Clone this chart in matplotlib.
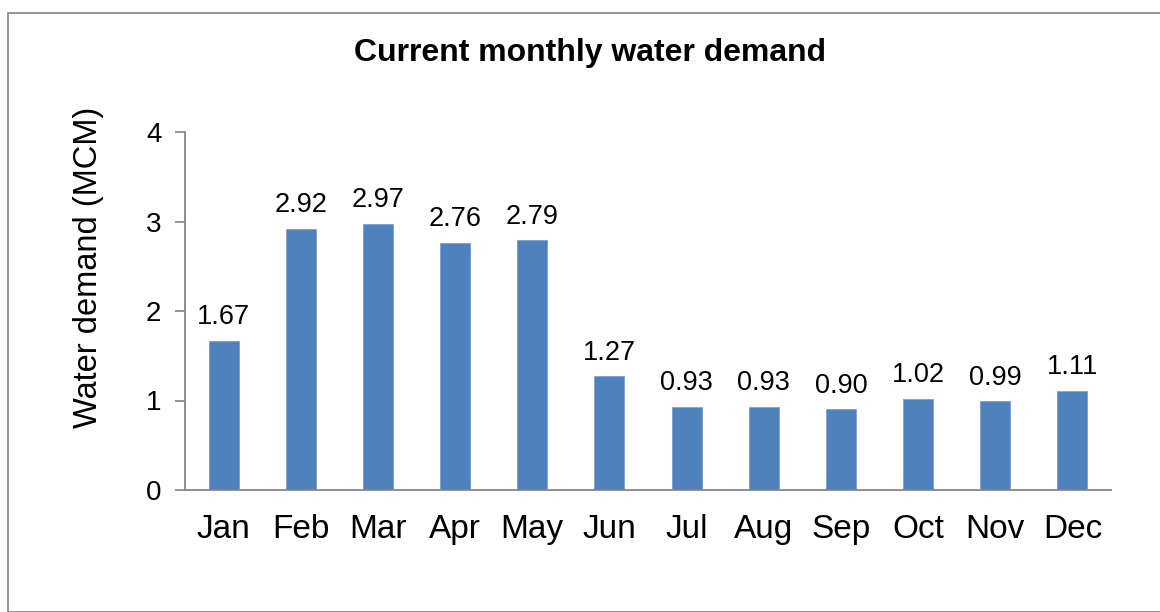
import matplotlib.pyplot as plt
from matplotlib.patches import Rectangle

months = ["Jan", "Feb", "Mar", "Apr", "May", "Jun", "Jul", "Aug", "Sep", "Oct", "Nov", "Dec"]
demand = [1.67, 2.92, 2.97, 2.76, 2.79, 1.27, 0.93, 0.93, 0.90, 1.02, 0.99, 1.11]
yticks = [0, 1, 2, 3, 4]

plt.rcParams["font.family"] = ["Liberation Sans", "DejaVu Sans"]

fig = plt.figure(figsize=(11.6, 6.12), dpi=100)
W, H = 1160, 612

# rahmen um das diagramm
fig.patches.append(Rectangle((8 / W, 0), 1.2, 1 - 13 / H, transform=fig.transFigure,
                             fill=False, edgecolor="#8c8c8c", linewidth=1.3))

ax = fig.add_axes([185 / W, 1 - 490 / H, (1111 - 185) / W, (490 - 132) / H])
x = range(len(months))
bars = ax.bar(x, demand, width=0.39, color="#4F81BD", edgecolor="#7A9FD0", linewidth=0.6)

for xi, v in zip(x, demand):
    ax.text(xi, v + 0.12, f"{v:.2f}", ha="center", va="bottom", fontsize=19.5)

ax.set_xlim(-0.5, len(months) - 0.5)
ax.set_ylim(0, 4)
ax.set_yticks(yticks)
ax.set_xticks(list(x))
ax.set_xticklabels(months, fontsize=24)
ax.tick_params(axis="x", length=0, pad=17)
ax.tick_params(axis="y", labelsize=20, length=7, color="#868686", width=1.2, pad=10)

for s in ["top", "right"]:
    ax.spines[s].set_visible(False)
for s in ["left", "bottom"]:
    ax.spines[s].set_color("#868686")
    ax.spines[s].set_linewidth(1.3)

ax.set_ylabel("Water demand (MCM)", fontsize=23.5)
ax.yaxis.set_label_coords(-0.0875, 0.623)
fig.text(590 / W, 1 - 53 / H, "Current monthly water demand", ha="center", va="center",
         fontsize=23, fontweight="bold")

fig.savefig("out.png", dpi=100)
